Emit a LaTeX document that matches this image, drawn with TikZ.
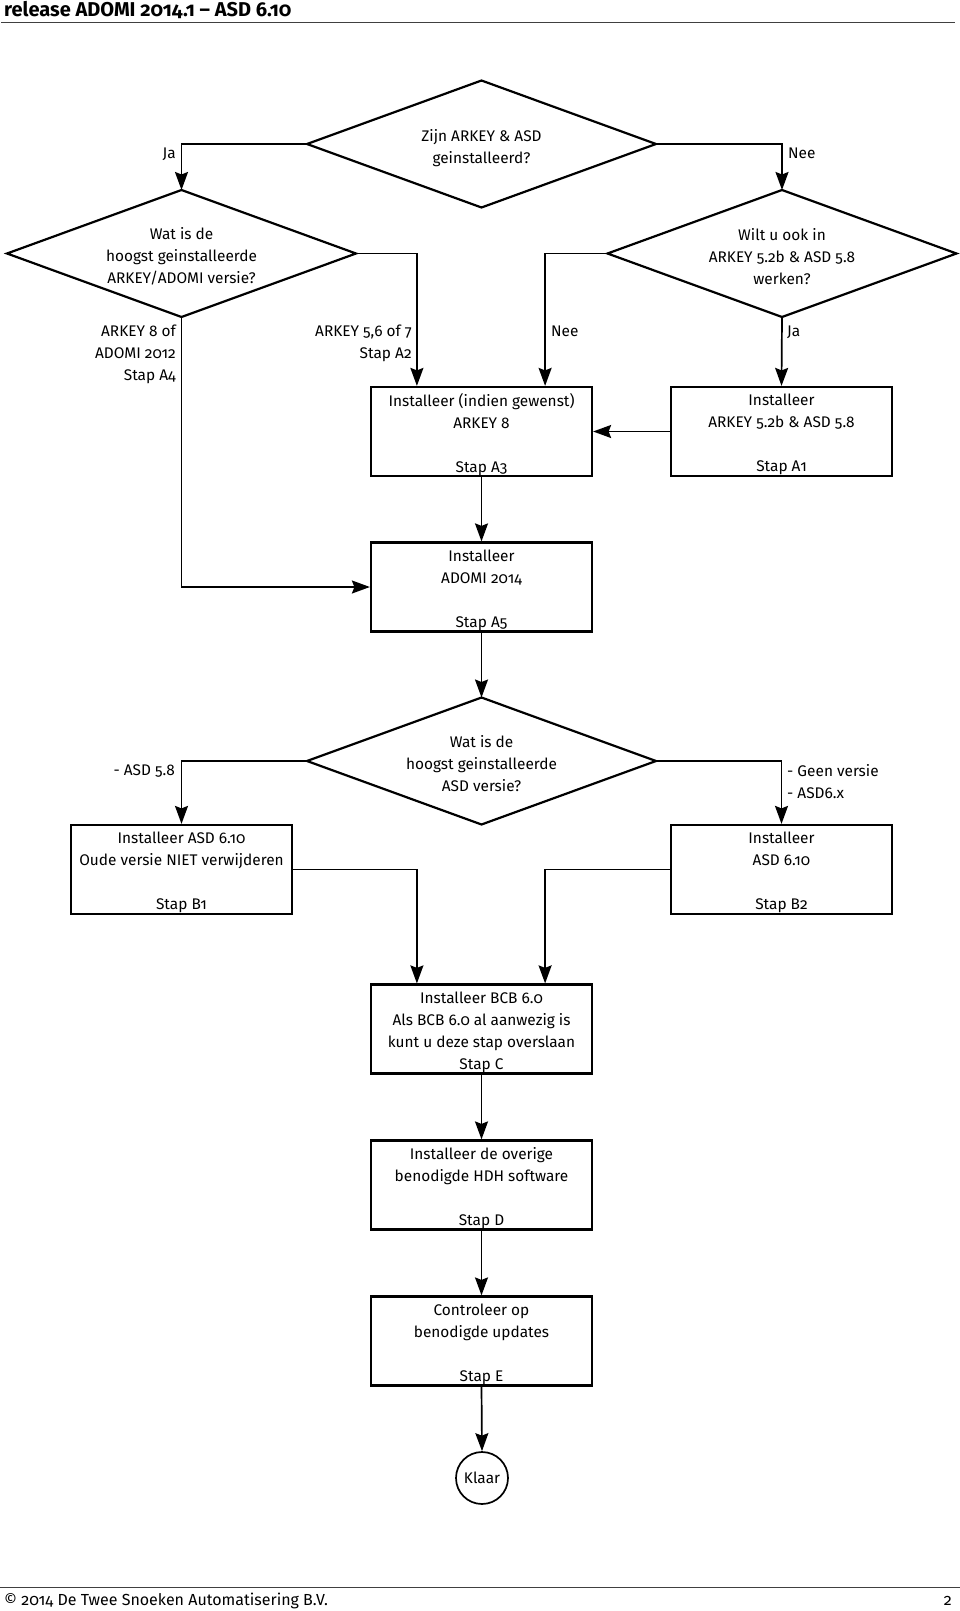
\documentclass[tikz,border=0pt]{standalone}
\usepackage{fontspec}
\setmainfont{Fira Sans}[Numbers=OldStyle]
\usetikzlibrary{arrows.meta,shapes.geometric,calc}
\newcommand\mainfs{\fontsize{15.4}{22}\selectfont}
\begin{document}
\begin{tikzpicture}[x=1pt,y=-1pt,
  conn/.style={line width=1.7pt,-{Stealth[length=18pt,width=13pt,inset=2.5pt]}},
  dia/.style={draw,shape=diamond,line width=2.2pt,minimum width=349pt,minimum height=127pt,aspect=2.75,inner sep=0pt,outer sep=0pt},
  box/.style={draw,rectangle,line width=2.2pt,minimum width=221pt,minimum height=89pt,inner sep=0pt},
  ctext/.style={align=center,font=\mainfs,inner sep=0pt},
  lab/.style={font=\mainfs,inner sep=0pt},
]
\useasboundingbox (0,0) rectangle (960,1611);

% header and footer
\node[anchor=base west,inner sep=0pt,font=\bfseries\fontsize{20}{22}\selectfont] (title) at (4,17) {release ADOMI 2014.1 – ASD 6.10};
\draw[line width=1pt,black!75] (1,23) -- (955,23);
\draw[line width=1pt,black!75] (0,1587) -- (960,1587);
\node[anchor=base west,inner sep=0pt,font=\fontsize{16}{18}\selectfont] (foot) at (4,1605) {© 2014 De Twee Snoeken Automatisering B.V.};
\node[anchor=base east,inner sep=0pt,font=\fontsize{16}{18}\selectfont] (page) at (952,1605) {2};

% decisions
\node[dia] (d1) at (481.5,144) {};
\node[ctext] (d1t) at ([yshift=-4pt]d1.center) {Zijn ARKEY \& ASD\\geinstalleerd?};
\node[dia] (d2) at (181.5,253.5) {};
\node[ctext] (d2t) at ([yshift=-3pt]d2.center) {Wat is de\\hoogst geinstalleerde\\ARKEY/ADOMI versie?};
\node[dia] (d3) at (782,253.5) {};
\node[ctext] (d3t) at ([yshift=-3pt]d3.center) {Wilt u ook in\\ARKEY 5.2b \& ASD 5.8\\werken?};
\node[dia] (d4) at (481.5,761) {};
\node[ctext] (d4t) at ([yshift=-3pt]d4.center) {Wat is de\\hoogst geinstalleerde\\ASD versie?};

% boxes
\node[box] (a3) at (481.5,431.5) {};
\node[ctext] (a3t) at ([yshift=-3pt]a3.center) {Installeer (indien gewenst)\\ARKEY 8\\\mbox{}\\Stap A3};
\node[box] (a1) at (781.5,431.5) {};
\node[ctext] (a1t) at ([yshift=-3pt]a1.center) {Installeer\\ARKEY 5.2b \& ASD 5.8\\\mbox{}\\Stap A1};
\node[box] (a5) at (481.5,587) {};
\node[ctext] (a5t) at ([yshift=-3pt]a5.center) {Installeer\\ADOMI 2014\\\mbox{}\\Stap A5};
\node[box] (b1) at (181.5,869.5) {};
\node[ctext] (b1t) at ([yshift=-3pt]b1.center) {Installeer ASD 6.10\\Oude versie NIET verwijderen\\\mbox{}\\Stap B1};
\node[box] (b2) at (781.5,869.5) {};
\node[ctext] (b2t) at ([yshift=-3pt]b2.center) {Installeer\\ASD 6.10\\\mbox{}\\Stap B2};
\node[box] (sc) at (481.5,1029) {};
\node[ctext] (sct) at ([yshift=-3pt]sc.center) {Installeer BCB 6.0\\Als BCB 6.0 al aanwezig is\\kunt u deze stap overslaan\\Stap C};
\node[box] (sd) at (481.5,1185) {};
\node[ctext] (sdt) at ([yshift=-3pt]sd.center) {Installeer de overige\\benodigde HDH software\\\mbox{}\\Stap D};
\node[box] (se) at (481.5,1341) {};
\node[ctext] (set) at ([yshift=-3pt]se.center) {Controleer op\\benodigde updates\\\mbox{}\\Stap E};
\node[draw,circle,line width=1.7pt,minimum size=52pt,inner sep=0pt,font=\mainfs] (klaar) at (482,1478) {Klaar};

% connectors
\draw[conn] (d1.west) -| (d2.north);
\draw[conn] (d1.east) -| (d3.north);
\draw[conn] (d2.east) -| ($(a3.north west)+(47,0)$);
\draw[conn] (d3.west) -| ($(a3.north east)+(-48,0)$);
\draw[conn] (d3.south) -- (a1.north);
\draw[conn] (a1.west) -- (a3.east);
\draw[conn] (d2.south) |- (a5.west);
\draw[conn] (a3.south) -- (a5.north);
\draw[conn] (a5.south) -- (d4.north);
\draw[conn] (d4.west) -| (b1.north);
\draw[conn] (d4.east) -| (b2.north);
\draw[conn] (b1.east) -| ($(sc.north west)+(47,0)$);
\draw[conn] (b2.west) -| ($(sc.north east)+(-48,0)$);
\draw[conn] (sc.south) -- (sd.north);
\draw[conn] (sd.south) -- (se.north);
\draw[conn] (se.south) -- (klaar.north);

% connector labels
\node[lab,anchor=base east] (l1) at (176,158) {Ja};
\node[lab,anchor=base west] (l2) at (788,158) {Nee};
\node[lab,anchor=north east,align=right] (l3) at (176,325) {ARKEY 8 of\\ADOMI 2012\\Stap A4};
\node[lab,anchor=north east,align=right] (l4) at (412,325) {ARKEY 5,6 of 7\\Stap A2};
\node[lab,anchor=base west] (l5) at (551,336) {Nee};
\node[lab,anchor=base west] (l6) at (787,336) {Ja};
\node[lab,anchor=base east] (l7) at (175,775) {- ASD 5.8};
\node[lab,anchor=north west,align=left] (l8) at (787,764) {- Geen versie\\- ASD6.x};
\end{tikzpicture}
\end{document}
